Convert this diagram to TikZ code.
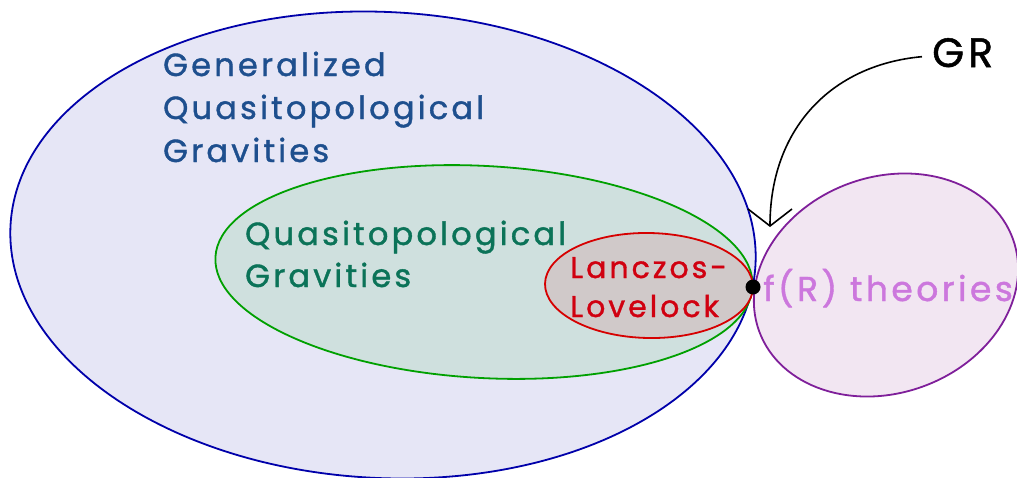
\documentclass[tikz,border=0pt]{standalone}
\usepackage{fontspec}
\setmainfont{Poppins}
\newfontfamily\hand{Poppins}[LetterSpace=10, FakeBold=1.2]
\usetikzlibrary{arrows.meta}
\definecolor{bluefill}{HTML}{E6E6F6}
\definecolor{bluestroke}{HTML}{0000AA}
\definecolor{bluetext}{HTML}{1E4F8E}
\definecolor{greenfill}{HTML}{CFE0DE}
\definecolor{greenstroke}{HTML}{00A000}
\definecolor{greentext}{HTML}{0B7358}
\definecolor{redfill}{HTML}{D0C9C9}
\definecolor{redstroke}{HTML}{D60000}
\definecolor{redtext}{HTML}{D00010}
\definecolor{purplefill}{HTML}{F2E6F2}
\definecolor{purplestroke}{HTML}{7F1F9A}
\definecolor{purpletext}{HTML}{CC77DD}
\begin{document}
\begin{tikzpicture}[x=1pt,y=-1pt,
  lbl/.style={inner sep=0pt, anchor=base west, align=left},
  setline/.style={line width=1.8pt}]
\useasboundingbox (0,0) rectangle (1017,477);
\clip (0,0) rectangle (1017,477);
% generalized quasitopological
\begin{scope}[shift={(383,245)}, rotate=-3]
  \draw[setline, draw=bluestroke, fill=bluefill] (0,0) ellipse [x radius=373pt, y radius=233pt];
\end{scope}
% f(R)
\begin{scope}[shift={(886,285)}, rotate=20]
  \draw[setline, draw=purplestroke, fill=purplefill] (0,0) ellipse [x radius=135pt, y radius=108pt];
\end{scope}
% quasitopological
\begin{scope}[shift={(484,272)}, rotate=-3.2]
  \draw[setline, draw=greenstroke, fill=greenfill] (0,0) ellipse [x radius=269pt, y radius=106pt];
\end{scope}
% Lanczos-Lovelock
\begin{scope}[shift={(649,285.5)}, rotate=-1]
  \draw[setline, draw=redstroke, fill=redfill] (0,0) ellipse [x radius=104pt, y radius=52.5pt];
\end{scope}
% texts (anchor = baseline of the last line)
\node[lbl, text=bluetext, font=\hand\fontsize{32}{43}\selectfont] (gqt) at (163,162) {Generalized\\Quasitopological\\Gravities};
\node[lbl, text=greentext, font=\hand\fontsize{32}{42}\selectfont] (qt) at (245,287) {Quasitopological\\Gravities};
\node[lbl, text=redtext, font=\hand\fontsize{30}{39}\selectfont] (ll) at (570,317) {Lanczos-\\Lovelock};
\node[lbl, text=purpletext, font=\hand\fontsize{34.5}{36}\selectfont] (fr) at (763,301) {f(R) theories};
\node[lbl, text=black, font=\hand\fontsize{41}{42}\selectfont] (gr) at (932,67) {GR};
% GR point
\node[circle, fill=black, minimum size=15pt, inner sep=0pt] (grpt) at (753,287) {};
\coordinate (tip) at (770,227);
\draw[line width=1.6pt, -{Straight Barb[length=17pt, width=44pt, line width=1.6pt]}]
  ([xshift=-10pt, yshift=-4pt]gr.west) .. controls (830,65) and (770,130) .. (tip);
\end{tikzpicture}
\end{document}
